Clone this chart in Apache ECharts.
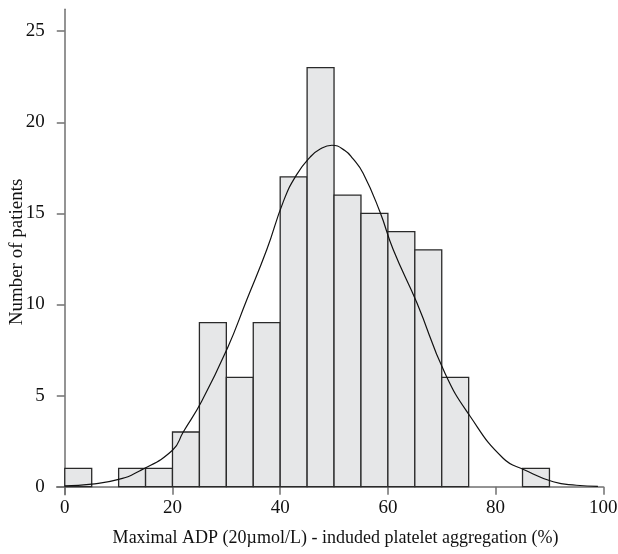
<!DOCTYPE html>
<html>
<head>
<meta charset="utf-8">
<script src="https://cdn.jsdelivr.net/npm/echarts@6/dist/echarts.min.js"></script>
<style>
  html, body { margin: 0; padding: 0; background: #fff; }
  #chart { width: 618px; height: 554px; }
</style>
</head>
<body>
<div id="chart"></div>
<script>
// histogram bins (width 5) and counts
const binStart = [0, 10, 15, 20, 25, 30, 35, 40, 45, 50, 55, 60, 65, 70, 85];
const binEnd = [5, 15, 20, 25, 30, 35, 40, 45, 50, 55, 60, 65, 70, 75, 90];
const counts = [1, 1, 1, 3, 9, 6, 9, 17, 23, 16, 15, 14, 13, 6, 1];

// fitted curve
const curveX = [0, 5, 10, 14, 20, 22, 25.4, 30.2, 33.8, 37.5, 40.6, 43, 45.6, 47.5, 49.6, 52, 53.5, 55.4, 58.5, 61, 65.4, 70.6, 75.3, 81.4, 85.4, 90.7, 95, 99];
const curveY = [0.05, 0.14, 0.4, 0.88, 2.0, 3.0, 4.67, 7.6, 10.26, 13.0, 15.66, 17.1, 18.1, 18.55, 18.74, 18.45, 18.0, 17.2, 15.1, 13.0, 10.08, 6.23, 3.85, 1.56, 0.92, 0.27, 0.08, 0.02];

const xTicks = [0, 20, 40, 60, 80, 100];
const yTicks = [0, 5, 10, 15, 20, 25];

const font = "Liberation Serif";
const axisColor = "#707070";

const chart = echarts.init(document.getElementById("chart"));

chart.setOption({
  animation: false,
  grid: { left: 56.7, right: 14.7, top: 9.3, bottom: 59.3, outerBoundsMode: "none", containLabel: false },
  xAxis: {
    type: "value",
    min: -1.5,
    max: 100,
    name: "Maximal ADP (20\u00b5mol/L) - induded platelet aggregation (%)",
    nameLocation: "middle",
    nameGap: 35,
    nameMoveOverlap: false,
    nameTextStyle: { fontFamily: font, fontSize: 18, color: "#111", padding: [0, 0, 0, 11] },
    axisLine: { onZero: true, lineStyle: { color: axisColor, width: 1.5 } },
    axisTick: { length: 8, customValues: xTicks, lineStyle: { color: axisColor, width: 1.5 } },
    axisLabel: { customValues: xTicks, margin: 4, fontFamily: font, fontSize: 19, color: "#111" },
    splitLine: { show: false },
  },
  yAxis: {
    type: "value",
    min: -0.44,
    max: 26.2,
    name: "Number of patients",
    nameLocation: "middle",
    nameGap: 30,
    nameMoveOverlap: false,
    nameTextStyle: { fontFamily: font, fontSize: 19, color: "#111" },
    axisLine: { onZero: true, lineStyle: { color: axisColor, width: 1.5 } },
    axisTick: { length: 8, customValues: yTicks, lineStyle: { color: axisColor, width: 1.5 } },
    axisLabel: { customValues: yTicks, margin: 12, fontFamily: font, fontSize: 19, color: "#111" },
    splitLine: { show: false },
  },
  series: [
    {
      type: "custom",
      data: binStart.map((s, i) => [s, binEnd[i], counts[i]]),
      encode: { x: [0, 1], y: 2 },
      renderItem: (params, api) => {
        const p0 = api.coord([api.value(0), api.value(2)]);
        const p1 = api.coord([api.value(1), 0]);
        return {
          type: "rect",
          shape: { x: p0[0], y: p0[1], width: p1[0] - p0[0], height: p1[1] - p0[1] },
          style: { fill: "#e6e7e8", stroke: "#2a2a2a", lineWidth: 1.3 },
        };
      },
      z: 2,
    },
    {
      type: "line",
      data: curveX.map((x, i) => [x, curveY[i]]),
      smooth: 0.5,
      showSymbol: false,
      lineStyle: { color: "#111", width: 1.2 },
      z: 3,
    },
  ],
});
</script>
</body>
</html>
